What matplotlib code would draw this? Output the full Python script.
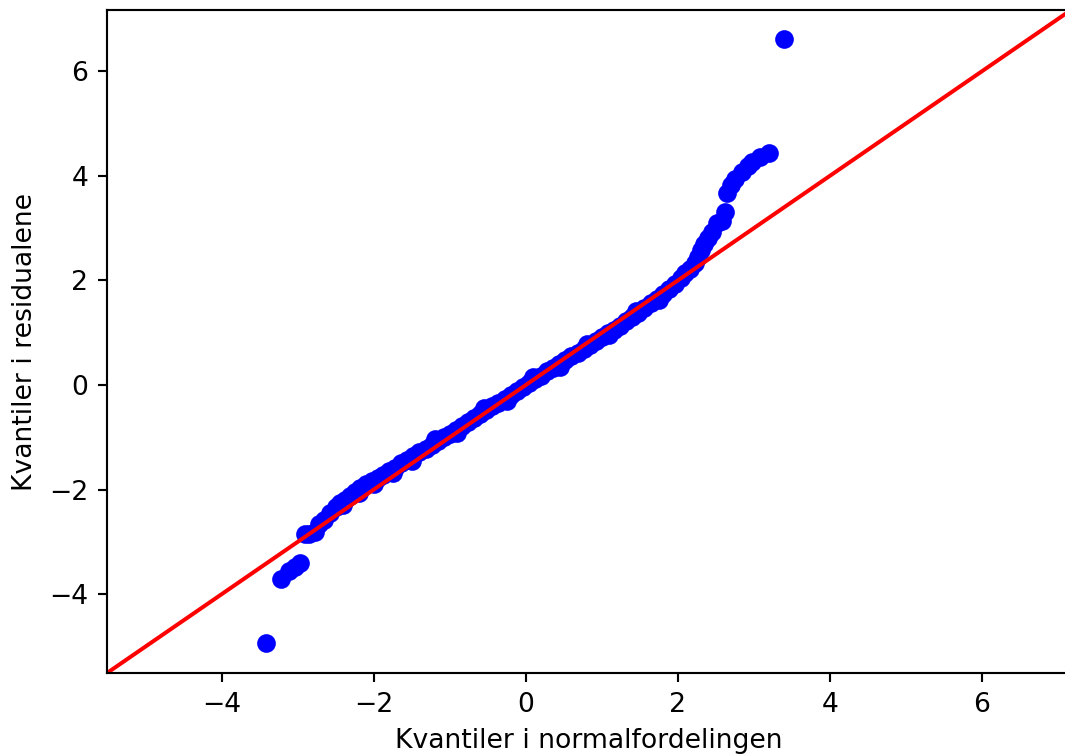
import matplotlib
matplotlib.use("Agg")
import matplotlib.pyplot as plt
import numpy as np

# teoretiske kvantiler (x) og residualkvantiler (y), lest av figuren
teoretisk = [-3.42, -3.22, -3.11, -3.04, -2.97,
             -2.90, -2.85, -2.78, -2.72, -2.65, -2.58, -2.50, -2.44, -2.38, -2.32,
             -2.25, -2.18, -2.10, -2.02, -1.95, -1.88, -1.80, -1.72, -1.64, -1.56,
             -1.48, -1.40, -1.32, -1.24, -1.16, -1.08, -1.00, -0.92, -0.84, -0.76,
             -0.68, -0.60, -0.52, -0.44, -0.36, -0.28, -0.20, -0.12, -0.04, 0.04,
             0.12, 0.20, 0.28, 0.36, 0.44, 0.52, 0.60, 0.68, 0.76, 0.84,
             0.92, 1.00, 1.08, 1.16, 1.24, 1.32, 1.40, 1.48, 1.56, 1.64,
             1.72, 1.80, 1.88, 1.96, 2.04, 2.10, 2.16, 2.22, 2.27, 2.31,
             2.35, 2.40, 2.45, 2.51, 2.58, 2.62, 2.65, 2.70, 2.75, 2.84,
             2.92, 2.98, 3.08, 3.20, 3.40,
             -2.40, -2.20, -2.00, -1.75, -1.50, -1.20, -0.90, -0.55, -0.25, 0.10,
             0.45, 0.80, 1.10, 1.45, 1.75]
residual = [-4.93, -3.71, -3.55, -3.48, -3.41,
            -2.86, -2.85, -2.82, -2.66, -2.58, -2.45, -2.33, -2.26, -2.20, -2.13,
            -2.05, -1.98, -1.90, -1.83, -1.78, -1.72, -1.65, -1.58, -1.50, -1.43,
            -1.36, -1.29, -1.22, -1.14, -1.07, -1.00, -0.93, -0.86, -0.78, -0.71,
            -0.63, -0.56, -0.48, -0.41, -0.34, -0.27, -0.19, -0.12, -0.04, 0.04,
            0.11, 0.18, 0.26, 0.33, 0.40, 0.47, 0.55, 0.62, 0.69, 0.76,
            0.84, 0.91, 0.99, 1.06, 1.13, 1.22, 1.30, 1.38, 1.47, 1.56,
            1.65, 1.74, 1.84, 1.94, 2.05, 2.14, 2.22, 2.33, 2.45, 2.58,
            2.70, 2.82, 2.92, 3.10, 3.14, 3.30, 3.68, 3.82, 3.94, 4.08,
            4.18, 4.26, 4.36, 4.43, 6.62,
            -2.30, -2.07, -1.89, -1.68, -1.45, -1.03, -0.91, -0.44, -0.30, 0.15,
            0.35, 0.79, 0.95, 1.41, 1.62]

grenser = (-5.51, 7.17)

fig = plt.figure(figsize=(1065 / 192, 755 / 192), dpi=192)
ax = fig.add_axes([0.1005, 0.1086, 0.905, 0.878])

ax.plot(teoretisk, residual, 'bo')
ax.axline((0, 0), slope=1, color='r')

ax.set_xlim(grenser)
ax.set_ylim(grenser)
ax.set_xticks([-4, -2, 0, 2, 4, 6])
ax.set_yticks([-4, -2, 0, 2, 4, 6])
ax.set_xlabel("Kvantiler i normalfordelingen")
ax.set_ylabel("Kvantiler i residualene")

fig.savefig("out.png", dpi=192)
